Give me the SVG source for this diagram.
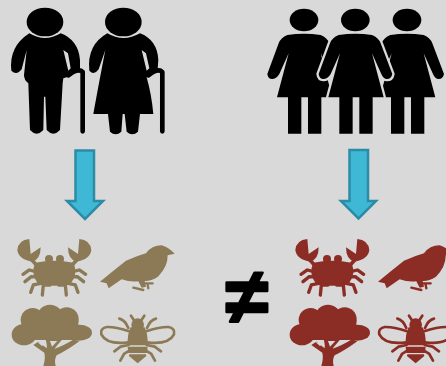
<svg xmlns="http://www.w3.org/2000/svg" xmlns:xlink="http://www.w3.org/1999/xlink" width="446" height="366" viewBox="0 0 446 366">
<style>
.k{fill:#000}
.cane{fill:none;stroke:#000;stroke-width:14;stroke-linecap:round;stroke-linejoin:round}
.arrow{fill:#3fb8d6;stroke:#2b8ca5;stroke-width:2.500}
.olive{color:#8b7a55}
.red{color:#8b2c25}
.f{fill:currentColor}
.s{fill:none;stroke:currentColor;stroke-linecap:round;stroke-linejoin:round}
.ne{font-family:"Liberation Sans",sans-serif;font-weight:700;font-size:78px;fill:#000;stroke:#000;stroke-width:2.500;stroke-linejoin:round;text-anchor:middle}
</style>
<defs>
<g id="w">
<ellipse cx="0" cy="60" rx="43" ry="34" class="k"/>
<path class="k" d="M-50,105 Q0,98 50,105 Q70,113 76,130 L111,222 Q108,238 93,237 Q84,236 78,222 L50,160 L85,292 L52,292 L52,401 L12,401 L12,292 L-8,292 L-8,401 L-48,401 L-48,292 L-81,292 L-46,160 L-74,222 Q-82,236 -94,237 Q-108,238 -110,222 L-76,130 Q-70,113 -50,105Z"/>
</g>
<g id="crab">
<path class="f" d="M88,27 L92,72 L122,52 Q122,88 97,95 Q55,88 52,60 Q55,30 88,27Z M238,27 L234,72 L204,52 Q204,88 229,95 Q271,88 274,60 Q271,30 238,27Z"/>
<path class="f" d="M106,98 Q163,86 220,98 Q236,130 210,164 Q163,170 116,164 Q90,130 106,98Z"/>
<circle class="f" cx="147" cy="87" r="12"/><circle class="f" cx="180" cy="87" r="12"/>
<path class="s" stroke-width="11" d="M96,90 L115,112 M230,90 L211,112"/>
<path class="s" stroke-width="10" d="M108,125 L88,120 L69,133 M112,141 L94,140 L75,155 M122,160 L100,165 L92,187 M150,165 L130,165 L127,195 M218,125 L238,120 L257,133 M214,141 L232,140 L251,155 M204,160 L226,165 L234,187 M176,165 L196,165 L199,195"/>
</g>
<g id="bird">
<path class="f" d="M300,155 Q345,118 378,92 Q410,78 438,70 Q455,46 485,46 Q505,52 524,71 L503,76 Q504,110 474,140 Q452,154 434,153 L438,170 L425,173 L415,154 Q390,157 365,148 L326,175 L320,160Z"/>
<path class="s" stroke-width="7" d="M400,173 L430,180 M432,160 L458,160 M442,160 L445,175"/>
</g>
<g id="tree">
<circle class="f" cx="150" cy="262" r="38"/><circle class="f" cx="98" cy="270" r="36"/><circle class="f" cx="200" cy="268" r="36"/>
<ellipse class="f" cx="72" cy="314" rx="37" ry="32"/><ellipse class="f" cx="238" cy="308" rx="38" ry="24"/>
<rect class="f" x="85" y="270" width="150" height="60"/>
<path class="f" d="M130,408 Q137,385 133,368 L100,345 L115,335 L140,355 Q142,345 136,325 L190,325 Q172,345 164,356 Q190,348 222,328 L238,334 Q200,362 170,376 Q162,388 167,408Z"/>
<path d="M112,336 L134,342 L126,348Z M150,333 L172,333 L156,350Z" fill="#d9d9d9"/>
</g>
<g id="bee">
<path class="s" stroke-width="8" d="M385,303 Q345,290 320,291 Q300,295 304,313 Q320,345 385,337 M441,303 Q481,290 506,291 Q526,295 522,313 Q506,345 441,337"/>
<circle class="f" cx="413" cy="284" r="19"/>
<path class="f" d="M392,292 L434,292 Q444,310 443,346 L383,346 Q382,310 392,292Z"/>
<path class="f" d="M383,350 L443,350 L441,369 L385,369Z M388,373 L438,373 L439,378 L413,400 L387,378Z"/>
<path class="s" stroke-width="8" d="M403,272 L393,257 M423,272 L433,257 M385,294 Q375,270 358,266 M441,294 Q451,270 468,266 M386,345 L362,350 L343,364 M388,362 L372,372 L361,392 M440,345 L464,350 L483,364 M438,362 L454,372 L465,392"/>
</g>
</defs>
<rect width="446" height="366" fill="#d9d9d9"/>
<g id="elderly" transform="scale(.3333)">
<ellipse class="k" cx="135" cy="66" rx="55" ry="43"/>
<path class="k" d="M88,100 Q135,128 182,100 Q235,120 240,180 L240,205 Q232,222 222,212 Q212,225 200,232 L190,235 L188,250 L180,390 Q160,412 140,390 L136,290 L132,290 L130,390 Q110,412 90,390 L85,250 Q72,240 72,225 L80,150 L65,208 Q50,228 34,212 Q26,140 88,100Z M190,150 L205,212 L212,205 L204,160Z" fill-rule="evenodd"/>
<ellipse class="k" cx="370" cy="66" rx="55" ry="43"/>
<path class="k" d="M322,100 Q370,128 420,100 Q472,120 475,180 L473,208 Q465,222 455,212 Q448,225 440,232 Q455,285 460,342 L420,342 L414,395 Q397,410 380,395 L374,342 L368,342 L364,395 Q347,410 330,395 L324,342 L280,342 Q290,285 316,150 L296,208 Q282,228 268,212 Q260,135 322,100Z M425,150 L440,212 L448,205 L438,160Z" fill-rule="evenodd"/>
<path class="cane" d="M205,226 Q235,203 248,216 L248,394"/>
<path class="cane" d="M445,226 Q475,203 487,216 L487,394"/>
</g>
<g id="women" transform="translate(260,0) scale(.3333)">
<use xlink:href="#w" href="#w" x="132"/>
<use xlink:href="#w" href="#w" x="441"/>
<path d="M236,105 Q286,98 336,105 Q356,113 362,130 L397,222 Q394,238 379,237 Q370,236 364,222 L336,160 L371,292 L205,292 L240,160 L212,222 Q204,236 192,237 Q178,238 176,222 L210,130 Q216,113 236,105Z" fill="none" stroke="#d9d9d9" stroke-width="14" stroke-linejoin="round"/>
<use xlink:href="#w" href="#w" x="286"/>
</g>
<g id="connectors">
<path class="arrow" d="M75.500,150.500 H94 V201 H103 L85,219 L67,201 H75.500Z"/>
<path class="arrow" d="M349.500,150 H368 V201 H376 L358.500,218.500 L341,201 H349.500Z"/>
</g>
<g id="animals-left" class="olive" transform="translate(0,230) scale(.3333)">
<use xlink:href="#crab" href="#crab"/><use xlink:href="#bird" href="#bird"/><use xlink:href="#tree" href="#tree"/><use xlink:href="#bee" href="#bee"/>
</g>
<g id="not-equal"><text class="ne" x="247" y="323">≠</text></g>
<g id="animals-right" class="red" transform="translate(278,230) scale(.3333)">
<use xlink:href="#crab" href="#crab"/><use xlink:href="#bird" href="#bird"/><use xlink:href="#tree" href="#tree"/><use xlink:href="#bee" href="#bee"/>
</g>
</svg>
